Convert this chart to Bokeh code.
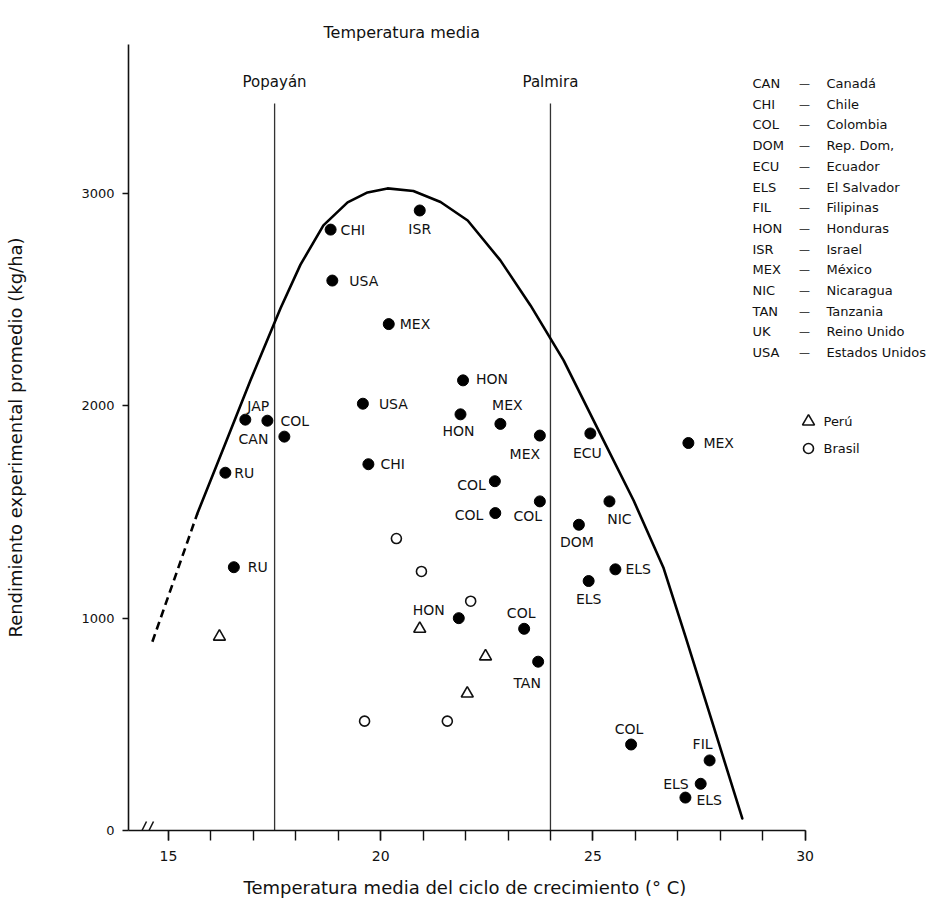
from bokeh.plotting import figure
from bokeh.models import Range1d, FixedTicker, ColumnDataSource, Title
from bokeh.core.properties import value
from bokeh.embed import file_html
from bokeh.resources import INLINE

# ---------------- data ----------------
codes = ["CHI", "ISR", "USA", "MEX", "HON", "HON", "MEX", "MEX", "ECU", "MEX",
         "USA", "JAP", "COL", "CAN", "RU", "CHI", "RU", "COL", "COL", "COL",
         "NIC", "DOM", "ELS", "ELS", "HON", "COL", "TAN", "COL", "FIL", "ELS", "ELS"]
temp = [18.82, 20.92, 18.86, 20.19, 21.94, 21.88, 22.82, 23.75, 24.94, 27.25,
        19.58, 16.81, 17.33, 17.73, 16.34, 19.71, 16.54, 22.69, 22.70, 23.75,
        25.39, 24.67, 25.53, 24.90, 21.84, 23.38, 23.71, 25.90, 27.75, 27.54, 27.18]
yld = [2830, 2920, 2590, 2385, 2120, 1960, 1915, 1860, 1870, 1825,
       2010, 1935, 1930, 1855, 1685, 1725, 1240, 1645, 1495, 1550,
       1550, 1440, 1230, 1175, 1000, 950, 795, 405, 330, 220, 155]

peru_temp = [16.20, 20.92, 22.47, 22.04]
peru_yld = [913, 950, 820, 645]

brasil_temp = [20.37, 20.96, 22.12, 19.62, 21.57]
brasil_yld = [1375, 1220, 1080, 515, 515]

curve_temp = [15.68, 16.34, 16.93, 17.64, 18.11, 18.65, 19.22, 19.69, 20.16, 20.77,
              21.41, 22.05, 22.82, 23.53, 24.31, 25.25, 25.96, 26.66, 27.18, 27.77,
              28.52]
curve_yld = [1493, 1823, 2119, 2460, 2665, 2850, 2958, 3005, 3024, 3012,
             2960, 2873, 2685, 2473, 2214, 1837, 1554, 1239, 914, 537,
             57]
curve_dash_temp = [14.62, 15.68]
curve_dash_yld = [889, 1493]

station_names = ["Popayán", "Palmira"]
station_temps = [17.5, 24.0]

legend_codes = ["CAN", "CHI", "COL", "DOM", "ECU", "ELS", "FIL", "HON", "ISR",
                "MEX", "NIC", "TAN", "UK", "USA"]
legend_names = ["Canadá", "Chile", "Colombia", "Rep. Dom,", "Ecuador", "El Salvador",
                "Filipinas", "Honduras", "Israel", "México", "Nicaragua", "Tanzania",
                "Reino Unido", "Estados Unidos"]

x_ticks = [15, 20, 25, 30]
x_minor = list(range(15, 31))
y_ticks = [0, 1000, 2000, 3000]

top_title = "Temperatura media"
x_title = "Temperatura media del ciclo de crecimiento (° C)"
y_title = "Rendimiento experimental promedio (kg/ha)"

# label placement (style): pixel offsets and alignment for each labelled point
lab_dx = [10, 0, 17, 11, 13, -2, 7, -15, -3, 15,
          16, 13, 13, -16, 9, 12, 14, -9, -12, -12,
          10, -2, 10, 0, -30, -3, -11, -2, -7, -12, 11]
lab_dy = [0, 19, 0, 0, -1, 17, -19, 18, 20, 0,
          0, -14, 0, 2, 0, 0, 0, 4, 2, 15,
          18, 17, 0, 18, -8, -16, 21, -16, -16, 0, 2]
lab_al = ["left", "center", "left", "left", "left", "center", "center", "center", "center", "left",
          "left", "center", "left", "right", "left", "left", "left", "right", "right", "center",
          "center", "center", "left", "center", "center", "center", "center", "center", "center",
          "right", "left"]

# ---------------- layout helpers (pixel -> data) ----------------
W, H = 941, 913
FR_L, FR_T, FR_B = 128, 44, 830   # frame left / top / bottom in page pixels
PX15, PXU = 168.0, 42.44          # pixel of x=15 and pixels per degree
PYU = 0.21233                     # pixels per kg/ha


def xd(px):
    return 15 + (px - PX15) / PXU


def yd(py):
    return (FR_B - py) / PYU


FONT = value("DejaVu Sans")
INK = "#111111"

p = figure(width=W, height=H, output_backend="svg", toolbar_location=None,
           x_range=Range1d(xd(FR_L), xd(W)), y_range=Range1d(0, yd(FR_T)),
           min_border_left=FR_L, min_border_right=0, min_border_top=FR_T,
           min_border_bottom=H - FR_B)
p.outline_line_color = None
p.xgrid.grid_line_color = None
p.ygrid.grid_line_color = None
p.background_fill_color = "white"
p.border_fill_color = "white"

# top title "Temperatura media"
p.title.text = top_title
p.title.align = "left"
p.title.offset = 195
p.title.text_font = "DejaVu Sans"
p.title.text_font_size = "16px"
p.title.text_font_style = "normal"
p.title.text_color = INK
p.title.standoff = 6

# axes
xa = p.xaxis[0]
xa.ticker = FixedTicker(ticks=x_ticks, minor_ticks=x_minor)
xa.bounds = (xd(FR_L), 30)
xa.axis_line_width = 1.6
xa.axis_line_color = INK
xa.major_tick_out = 10
xa.major_tick_in = 0
xa.minor_tick_out = 10
xa.minor_tick_in = 0
xa.major_tick_line_width = 1.4
xa.minor_tick_line_width = 1.4
xa.major_tick_line_color = INK
xa.minor_tick_line_color = INK
xa.major_label_text_font = "DejaVu Sans"
xa.major_label_text_font_size = "14px"
xa.major_label_text_color = INK
xa.major_label_standoff = 10

ya = p.yaxis[0]
ya.ticker = FixedTicker(ticks=y_ticks, minor_ticks=[])
ya.bounds = (0, yd(40))
ya.axis_line_width = 1.6
ya.axis_line_color = INK
ya.major_tick_out = 6
ya.major_tick_in = 0
ya.major_tick_line_width = 1.4
ya.major_tick_line_color = INK
ya.minor_tick_line_color = None
ya.major_label_text_font = "DejaVu Sans"
ya.major_label_text_font_size = "13px"
ya.major_label_text_color = INK
ya.major_label_standoff = 8
ya.axis_label = y_title
ya.axis_label_text_font = "DejaVu Sans"
ya.axis_label_text_font_size = "18px"
ya.axis_label_text_font_style = "normal"
ya.axis_label_text_color = INK
ya.axis_label_standoff = 52

# x title as a side title shifted from the frame's left edge
p.add_layout(Title(text=x_title, align="left", offset=115,
                   text_font="DejaVu Sans", text_font_size="18px",
                   text_font_style="normal", text_color=INK, standoff=22), "below")

# axis break "//"
p.segment(x0=[xd(137), xd(144)], y0=[yd(839), yd(839)],
          x1=[xd(146), xd(153)], y1=[yd(821), yd(821)],
          line_color=INK, line_width=1.5)

# station vertical lines
p.segment(x0=station_temps, y0=[0, 0], x1=station_temps, y1=[yd(103)] * 2,
          line_color="#333333", line_width=1.3)
p.text(x=station_temps, y=[yd(81)] * 2, text=station_names, text_font=FONT,
       text_font_size="15px", text_color=INK, text_align="center",
       text_baseline="middle")

# curve
p.line(curve_temp, curve_yld, line_color="black", line_width=2.6,
       line_join="round", line_cap="round")
p.line(curve_dash_temp, curve_dash_yld, line_color="black", line_width=2.6,
       line_dash="8 5")

# points
p.scatter(temp, yld, marker="circle", size=11, fill_color="black",
          line_color="black")
p.scatter(peru_temp, peru_yld, marker="triangle", size=12, fill_color="white",
          line_color=INK, line_width=1.6)
p.scatter(brasil_temp, brasil_yld, marker="circle", size=10, fill_color="white",
          line_color=INK, line_width=1.6)

# point labels
for al in ("left", "center", "right"):
    idx = [i for i, a in enumerate(lab_al) if a == al]
    src = ColumnDataSource(dict(
        x=[temp[i] for i in idx], y=[yld[i] for i in idx],
        t=[codes[i] for i in idx],
        dx=[lab_dx[i] for i in idx], dy=[lab_dy[i] for i in idx]))
    p.text(x="x", y="y", text="t", x_offset="dx", y_offset="dy", source=src,
           text_font=FONT, text_font_size="14px", text_color=INK,
           text_align=al, text_baseline="middle")

# code legend
row_py = [83 + 20.7 * i for i in range(len(legend_codes))]
p.text(x=[xd(752)] * len(legend_codes), y=[yd(v) for v in row_py], text=legend_codes,
       text_font=FONT, text_font_size="13px", text_color=INK,
       text_align="left", text_baseline="middle")
p.text(x=[xd(804)] * len(legend_codes), y=[yd(v) for v in row_py],
       text=["—"] * len(legend_codes),
       text_font=FONT, text_font_size="11px", text_color=INK,
       text_align="center", text_baseline="middle")
p.text(x=[xd(826)] * len(legend_codes), y=[yd(v) for v in row_py], text=legend_names,
       text_font=FONT, text_font_size="13px", text_color=INK,
       text_align="left", text_baseline="middle")

# marker legend
p.scatter([xd(808)], [yd(421)], marker="triangle", size=12, fill_color="white",
          line_color=INK, line_width=1.6)
p.scatter([xd(808)], [yd(448)], marker="circle", size=10, fill_color="white",
          line_color=INK, line_width=1.6)
p.text(x=[xd(823)] * 2, y=[yd(421), yd(448)], text=["Perú", "Brasil"],
       text_font=FONT, text_font_size="13px", text_color=INK,
       text_align="left", text_baseline="middle")

open("out.html", "w").write(file_html(p, INLINE))
